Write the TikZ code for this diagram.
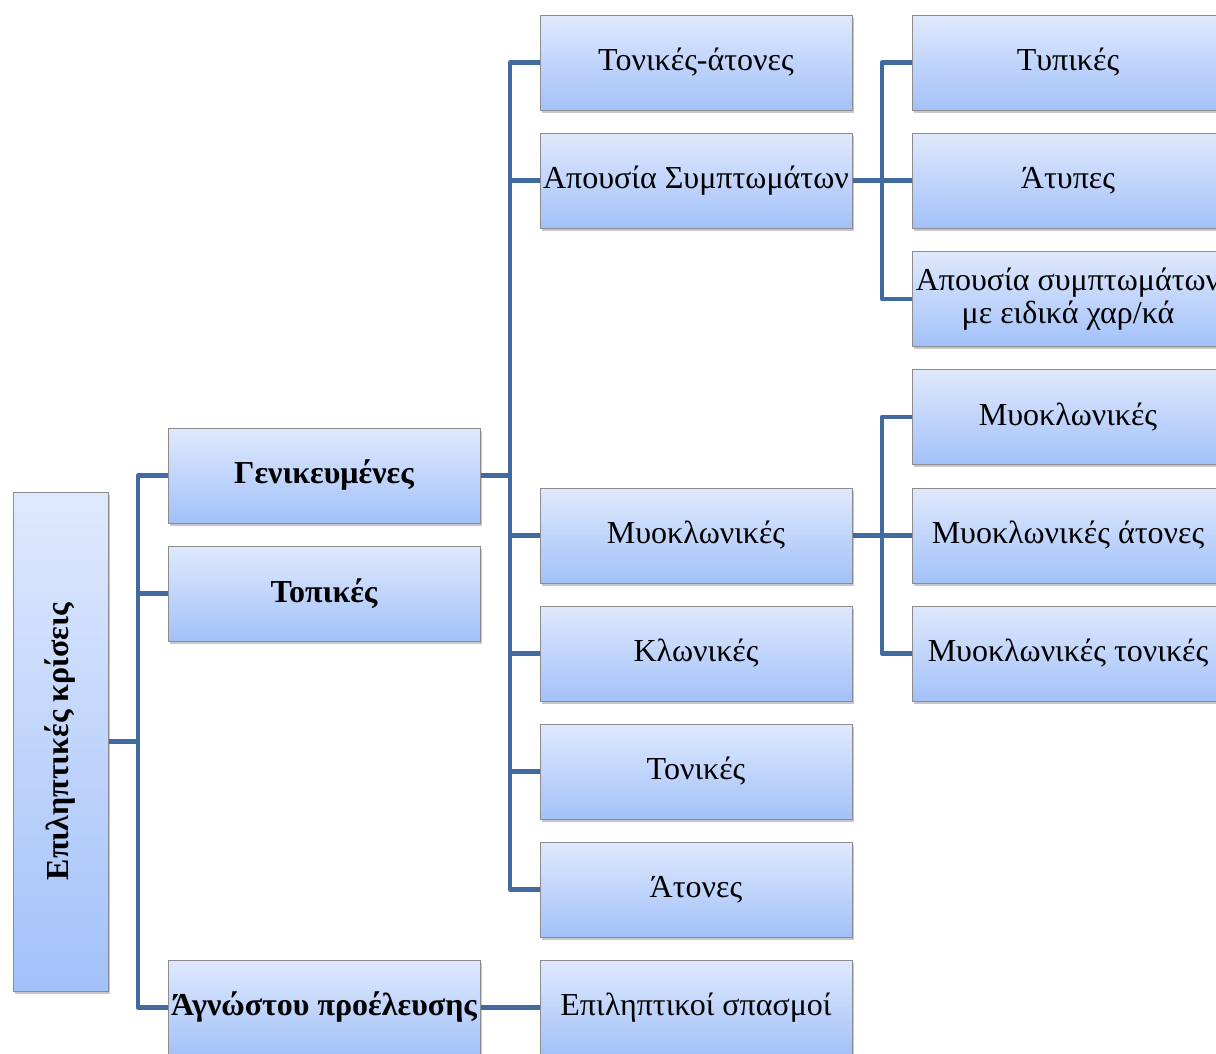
\documentclass[tikz,border=0pt]{standalone}
\usepackage{fontspec}
\setmainfont{Liberation Serif}
\usetikzlibrary{shadows}
\definecolor{boxtop}{RGB}{223,233,253}
\definecolor{boxbot}{RGB}{163,193,249}
\definecolor{boxline}{RGB}{140,140,140}
\definecolor{connc}{RGB}{64,106,160}
\tikzset{
  box/.style={draw=boxline, line width=1pt, top color=boxtop, bottom color=boxbot,
    minimum width=312pt, minimum height=95pt, inner sep=0pt, align=center,
    font=\fontsize{32}{33}\selectfont,
    drop shadow={shadow xshift=2pt, shadow yshift=-2.5pt, fill=black, opacity=0.22}},
  boldbox/.style={box, font=\fontsize{32}{33}\selectfont\bfseries},
  conn/.style={draw=connc, line width=4.5pt, line join=round}
}
\begin{document}
\begin{tikzpicture}[x=1pt,y=-1pt]
\clip (0,0) rectangle (1216,1053);
% root
\node[box, minimum width=95pt, minimum height=499pt] (root) at (60.5,741.5) {};
\node[rotate=90, font=\fontsize{32}{33}\selectfont\bfseries] (roottxt) at (root.center) {Επιληπτικές κρίσεις};
% level 1
\node[boldbox] (gen) at (324,475.5) {Γενικευμένες};
\node[boldbox] (top) at (324,593.5) {Τοπικές};
\node[boldbox] (agn) at (324,1007.5) {Άγνώστου προέλευσης};
% level 2
\node[box] (ta) at (696,62.5) {Τονικές-άτονες};
\node[box] (aps) at (696,180.5) {Απουσία Συμπτωμάτων};
\node[box] (myo) at (696,535.5) {Μυοκλωνικές};
\node[box] (klo) at (696,653.5) {Κλωνικές};
\node[box] (ton) at (696,771.5) {Τονικές};
\node[box] (ato) at (696,889.5) {Άτονες};
\node[box] (spa) at (696,1007.5) {Επιληπτικοί σπασμοί};
% level 3
\node[box] (typ) at (1068,62.5) {Τυπικές};
\node[box] (aty) at (1068,180.5) {Άτυπες};
\node[box] (apm) at (1068,299) {Απουσία συμπτωμάτων\\με ειδικά χαρ/κά};
\node[box] (m1) at (1068,417) {Μυοκλωνικές};
\node[box] (m2) at (1068,535.5) {Μυοκλωνικές άτονες};
\node[box] (m3) at (1068,653.5) {Μυοκλωνικές τονικές};
% junctions
\coordinate (j1) at (138,741.5);
\coordinate (j2) at (510,475.5);
\coordinate (j3) at (882,180.5);
\coordinate (j4) at (882,535.5);
% connectors
\draw[conn] (root.east) -- (j1);
\draw[conn] (gen.west) -| (j1 |- agn.west) -- (agn.west);
\draw[conn] (top.west) -- (top.west -| j1);
\draw[conn] (gen.east) -- (j2);
\draw[conn] (ta.west) -| (j2 |- ato.west) -- (ato.west);
\draw[conn] (aps.west) -- (aps.west -| j2);
\draw[conn] (myo.west) -- (myo.west -| j2);
\draw[conn] (klo.west) -- (klo.west -| j2);
\draw[conn] (ton.west) -- (ton.west -| j2);
\draw[conn] (agn.east) -- (spa.west);
\draw[conn] (aps.east) -- (j3);
\draw[conn] (typ.west) -| (j3 |- apm.west) -- (apm.west);
\draw[conn] (aty.west) -- (aty.west -| j3);
\draw[conn] (myo.east) -- (j4);
\draw[conn] (m1.west) -| (j4 |- m3.west) -- (m3.west);
\draw[conn] (m2.west) -- (m2.west -| j4);
\end{tikzpicture}
\end{document}
